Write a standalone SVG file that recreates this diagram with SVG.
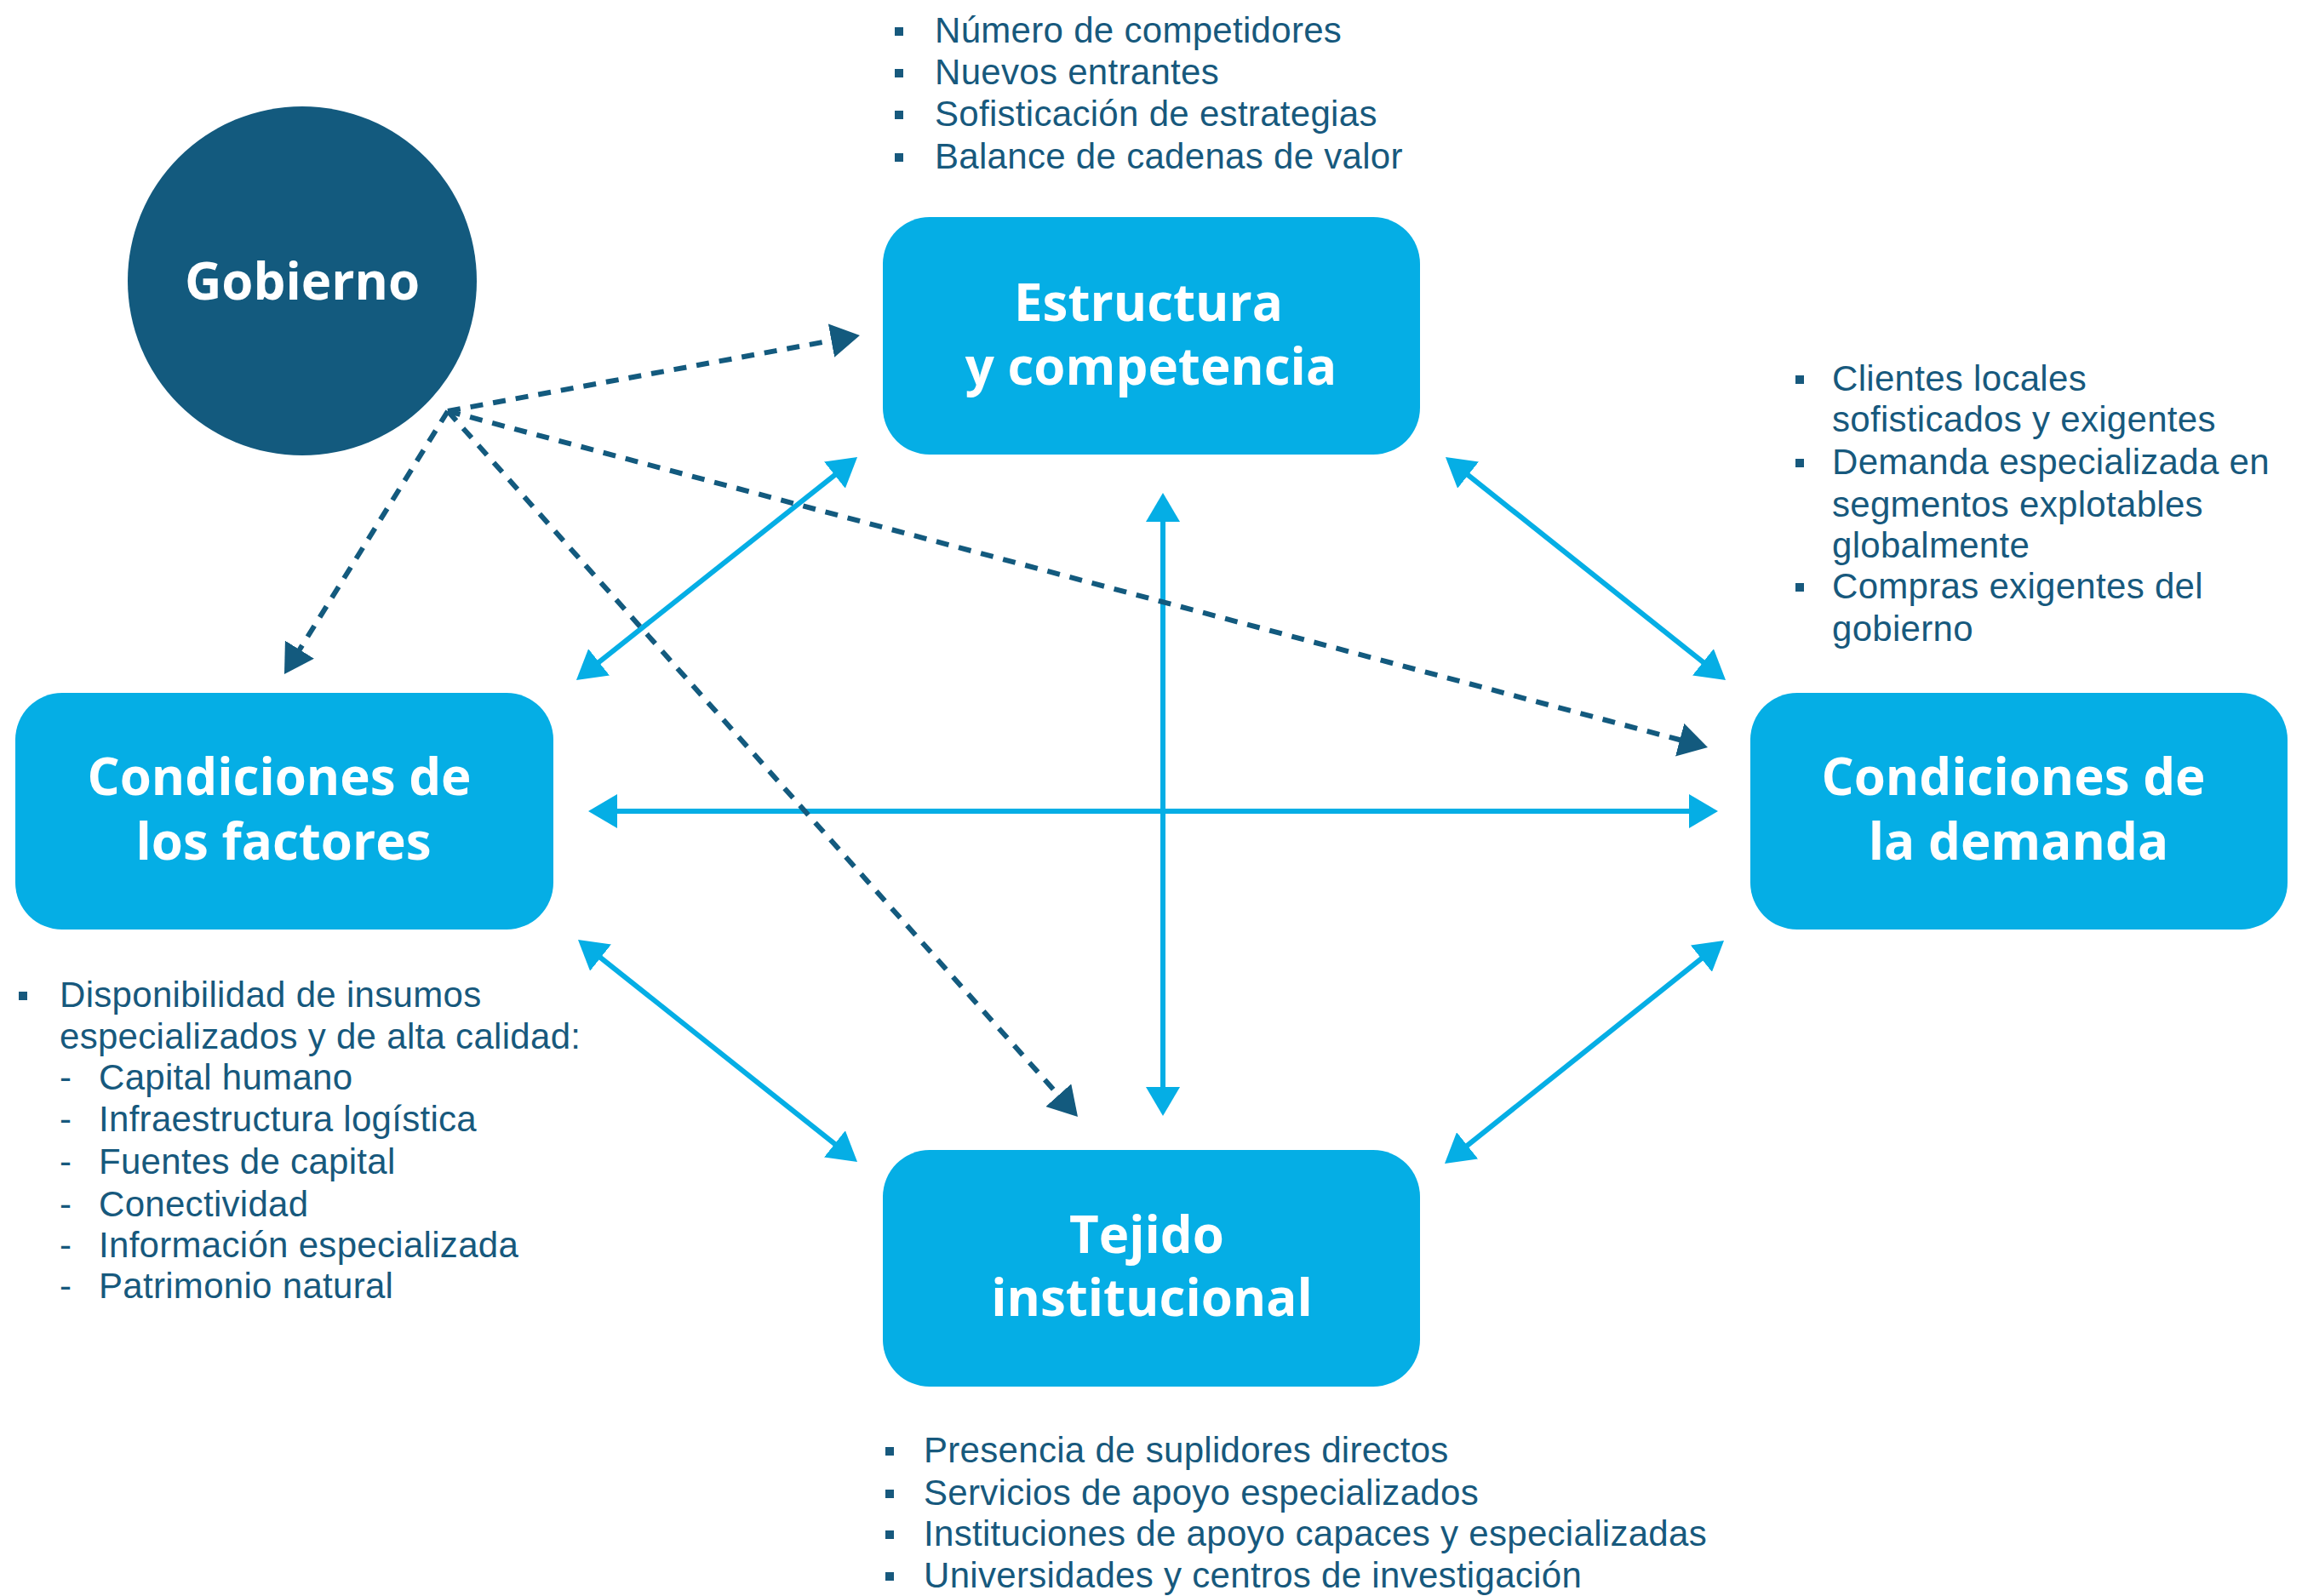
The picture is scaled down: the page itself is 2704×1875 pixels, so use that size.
<svg xmlns="http://www.w3.org/2000/svg" width="2704" height="1875" viewBox="0 0 2704 1875">
  <style>
    .box { fill: #05AEE5; }
    .title { font-family: "Open Sans", "Liberation Sans", sans-serif; font-weight: 700; font-size: 60px; fill: #FFFFFF; text-anchor: middle; }
    .item { font-family: "Liberation Sans", "Open Sans", sans-serif; font-size: 42px; letter-spacing: 0.3px; fill: #17597D; }
    .bullet { fill: #17597D; }
    .solid { stroke: #05AEE5; stroke-width: 6; fill: none; marker-start: url(#cyanHead); marker-end: url(#cyanHead); }
    .dash { stroke: #135A7E; stroke-width: 6; fill: none; stroke-dasharray: 15 12; marker-end: url(#darkHead); }
  </style>
  <defs>
    <marker id="cyanHead" viewBox="0 0 34 40" refX="19" refY="20" markerWidth="34" markerHeight="40" markerUnits="userSpaceOnUse" orient="auto-start-reverse">
      <path d="M0,0 L34,20 L0,40 Z" fill="#05AEE5" stroke="none"/>
    </marker>
    <marker id="darkHead" viewBox="0 0 34 40" refX="19" refY="20" markerWidth="34" markerHeight="40" markerUnits="userSpaceOnUse" orient="auto">
      <path d="M0,0 L34,20 L0,40 Z" fill="#135A7E" stroke="none"/>
    </marker>
  </defs>
  <rect width="2704" height="1875" fill="#FFFFFF"/>

  <g id="connectors">
    <line class="solid" x1="995.3" y1="546.3" x2="688.7" y2="789.7"/>
    <line class="solid" x1="1709.7" y1="546.3" x2="2015.3" y2="789.7"/>
    <line class="solid" x1="690.7" y1="1113.3" x2="995.3" y2="1355.7"/>
    <line class="solid" x1="2013.3" y1="1114.4" x2="1708.7" y2="1357.6"/>
    <line class="solid" x1="1366" y1="594" x2="1366" y2="1296"/>
    <line class="solid" x1="706" y1="953" x2="2003" y2="953"/>
    <line class="dash" x1="526" y1="483" x2="995.2" y2="396.7"/>
    <line class="dash" x1="526" y1="483" x2="341.9" y2="779.3"/>
    <line class="dash" x1="526" y1="483" x2="1256" y2="1300.8"/>
    <line class="dash" x1="526" y1="483" x2="1991.5" y2="874.1"/>
  </g>

  <g id="gobierno">
    <circle cx="355" cy="330" r="205" fill="#135A7E"/>
    <text class="title" x="355" y="352">Gobierno</text>
  </g>

  <g id="estructura">
    <rect class="box" x="1037" y="255" width="631" height="279" rx="55" ry="55"/>
    <text class="title" x="1349" y="377">Estructura</text>
    <text class="title" x="1352" y="452">y competencia</text>
  </g>

  <g id="factores">
    <rect class="box" x="18" y="814" width="632" height="278" rx="55" ry="55"/>
    <text class="title" x="328" y="934">Condiciones de</text>
    <text class="title" x="333" y="1010">los factores</text>
  </g>

  <g id="demanda">
    <rect class="box" x="2056" y="814" width="631" height="278" rx="55" ry="55"/>
    <text class="title" x="2365" y="934">Condiciones de</text>
    <text class="title" x="2371" y="1010">la demanda</text>
  </g>

  <g id="tejido">
    <rect class="box" x="1037" y="1351" width="631" height="278" rx="55" ry="55"/>
    <text class="title" x="1347" y="1472">Tejido</text>
    <text class="title" x="1353" y="1546">institucional</text>
  </g>

  <g id="lista-estructura">
    <rect class="bullet" x="1051" y="32" width="10" height="10"/>
    <rect class="bullet" x="1051" y="81" width="10" height="10"/>
    <rect class="bullet" x="1051" y="130" width="10" height="10"/>
    <rect class="bullet" x="1051" y="180" width="10" height="10"/>
    <text class="item" x="1098" y="50">Número de competidores</text>
    <text class="item" x="1098" y="99">Nuevos entrantes</text>
    <text class="item" x="1098" y="148">Sofisticación de estrategias</text>
    <text class="item" x="1098" y="198">Balance de cadenas de valor</text>
  </g>

  <g id="lista-demanda">
    <rect class="bullet" x="2109" y="441" width="10" height="10"/>
    <rect class="bullet" x="2109" y="539" width="10" height="10"/>
    <rect class="bullet" x="2109" y="685" width="10" height="10"/>
    <text class="item" x="2152" y="459">Clientes locales</text>
    <text class="item" x="2152" y="507">sofisticados y exigentes</text>
    <text class="item" x="2152" y="557">Demanda especializada en</text>
    <text class="item" x="2152" y="607">segmentos explotables</text>
    <text class="item" x="2152" y="655">globalmente</text>
    <text class="item" x="2152" y="703">Compras exigentes del</text>
    <text class="item" x="2152" y="753">gobierno</text>
  </g>

  <g id="lista-factores">
    <rect class="bullet" x="22" y="1165" width="10" height="10"/>
    <text class="item" x="70" y="1183">Disponibilidad de insumos</text>
    <text class="item" x="70" y="1232">especializados y de alta calidad:</text>
    <text class="item" x="70" y="1280">-</text>
    <text class="item" x="116" y="1280">Capital humano</text>
    <text class="item" x="70" y="1329">-</text>
    <text class="item" x="116" y="1329">Infraestructura logística</text>
    <text class="item" x="70" y="1379">-</text>
    <text class="item" x="116" y="1379">Fuentes de capital</text>
    <text class="item" x="70" y="1429">-</text>
    <text class="item" x="116" y="1429">Conectividad</text>
    <text class="item" x="70" y="1477">-</text>
    <text class="item" x="116" y="1477">Información especializada</text>
    <text class="item" x="70" y="1525">-</text>
    <text class="item" x="116" y="1525">Patrimonio natural</text>
  </g>

  <g id="lista-tejido">
    <rect class="bullet" x="1040" y="1700" width="10" height="10"/>
    <rect class="bullet" x="1040" y="1750" width="10" height="10"/>
    <rect class="bullet" x="1040" y="1798" width="10" height="10"/>
    <rect class="bullet" x="1040" y="1847" width="10" height="10"/>
    <text class="item" x="1085" y="1718">Presencia de suplidores directos</text>
    <text class="item" x="1085" y="1768">Servicios de apoyo especializados</text>
    <text class="item" x="1085" y="1816">Instituciones de apoyo capaces y especializadas</text>
    <text class="item" x="1085" y="1865">Universidades y centros de investigación</text>
  </g>
</svg>
